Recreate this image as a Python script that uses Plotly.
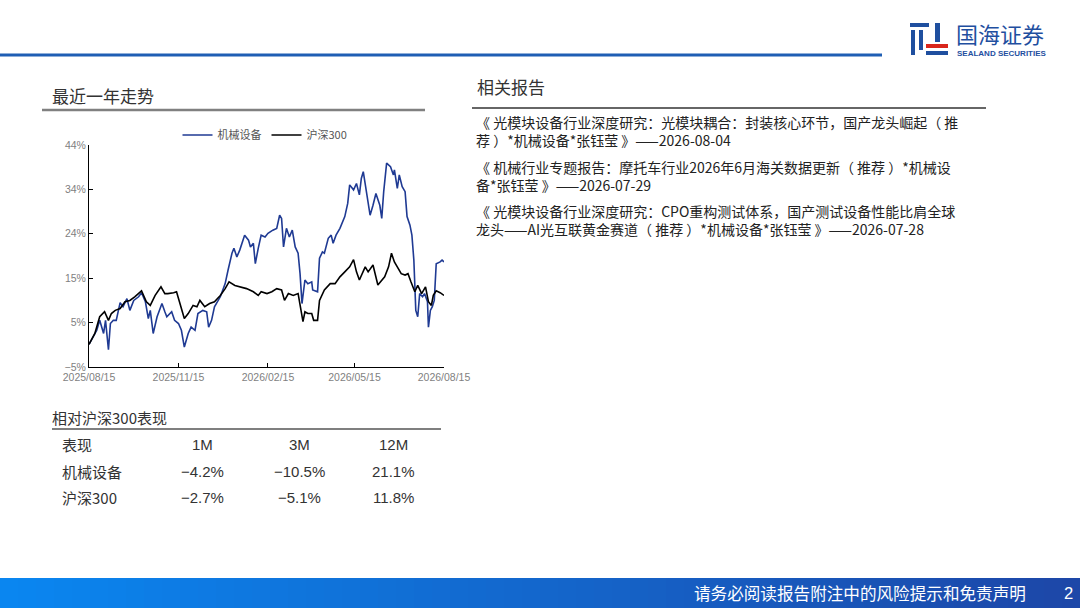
"""
Sector vs CSI300 one-year trend page, rebuilt with Plotly.
"""

import plotly.graph_objects as go

W, H = 1080, 608

# --- chart data ---
hs300_dates = [
    "2025-08-15", "2025-08-21", "2025-08-26", "2025-08-31", "2025-09-04", "2025-09-07",
    "2025-09-11", "2025-09-16", "2025-09-21", "2025-09-26", "2025-10-01", "2025-10-08",
    "2025-10-13", "2025-10-17", "2025-10-22", "2025-10-28", "2025-11-01", "2025-11-04",
    "2025-11-10", "2025-11-13", "2025-11-16", "2025-11-21", "2025-11-25", "2025-11-30",
    "2025-12-04", "2025-12-07", "2025-12-12", "2025-12-17", "2025-12-22", "2025-12-28",
    "2026-01-02", "2026-01-06", "2026-01-12", "2026-01-17", "2026-01-24", "2026-01-31",
    "2026-02-05", "2026-02-08", "2026-02-14", "2026-02-19", "2026-02-24", "2026-03-01",
    "2026-03-04", "2026-03-08", "2026-03-13", "2026-03-18", "2026-03-20", "2026-03-23",
    "2026-03-25", "2026-03-28", "2026-04-01", "2026-04-03", "2026-04-07", "2026-04-09",
    "2026-04-14", "2026-04-20", "2026-04-25", "2026-04-30", "2026-05-05", "2026-05-10",
    "2026-05-14", "2026-05-17", "2026-05-20", "2026-05-26", "2026-05-29", "2026-06-03",
    "2026-06-08", "2026-06-12", "2026-06-15", "2026-06-19", "2026-06-22", "2026-06-25",
    "2026-06-29", "2026-07-02", "2026-07-06", "2026-07-09", "2026-07-12", "2026-07-16",
    "2026-07-19", "2026-07-23", "2026-07-27", "2026-07-30", "2026-08-02", "2026-08-04",
    "2026-08-07", "2026-08-11", "2026-08-15",
]
hs300_vals = [
    0.0, 2.4, 6.1, 7.2, 5.3, 6.8,
    7.5, 7.9, 9.4, 9.7, 10.5, 11.8,
    9.4, 8.6, 10.8, 12.7, 11.2, 11.2,
    11.4, 11.6, 9.4, 5.7, 6.8, 8.6,
    8.3, 9.7, 8.3, 9.0, 9.4, 10.8,
    12.3, 13.8, 13.0, 12.7, 12.3, 11.6,
    10.8, 11.6, 11.2, 11.6, 12.3, 12.0,
    9.7, 11.2, 10.8, 11.2, 9.0, 5.0,
    7.2, 6.8, 6.8, 5.3, 5.3, 9.7,
    12.0, 13.4, 13.4, 14.9, 16.0, 17.1,
    18.7, 16.0, 14.2, 17.1, 16.0, 17.5,
    13.1, 14.2, 14.9, 17.1, 20.1, 18.2,
    16.7, 15.6, 15.3, 15.6, 13.8, 11.6,
    13.0, 11.2, 12.7, 9.4, 8.6, 10.8,
    11.8, 11.4, 10.8,
]

mach_dates = [
    "2025-08-15", "2025-08-19", "2025-08-23", "2025-08-26", "2025-08-30", "2025-09-01",
    "2025-09-04", "2025-09-06", "2025-09-09", "2025-09-12", "2025-09-16", "2025-09-19",
    "2025-09-23", "2025-09-26", "2025-09-30", "2025-10-05", "2025-10-08", "2025-10-12",
    "2025-10-15", "2025-10-17", "2025-10-20", "2025-10-24", "2025-10-29", "2025-11-01",
    "2025-11-03", "2025-11-08", "2025-11-11", "2025-11-15", "2025-11-18", "2025-11-21",
    "2025-11-25", "2025-11-28", "2025-12-02", "2025-12-05", "2025-12-10", "2025-12-14",
    "2025-12-16", "2025-12-19", "2025-12-22", "2025-12-28", "2026-01-02", "2026-01-05",
    "2026-01-09", "2026-01-11", "2026-01-14", "2026-01-17", "2026-01-22", "2026-01-26",
    "2026-01-28", "2026-01-31", "2026-02-02", "2026-02-05", "2026-02-08", "2026-02-12",
    "2026-02-15", "2026-02-20", "2026-02-24", "2026-02-27", "2026-03-01", "2026-03-03",
    "2026-03-06", "2026-03-09", "2026-03-12", "2026-03-15", "2026-03-18", "2026-03-20",
    "2026-03-22", "2026-03-25", "2026-03-28", "2026-04-01", "2026-04-02", "2026-04-07",
    "2026-04-09", "2026-04-12", "2026-04-14", "2026-04-18", "2026-04-21", "2026-04-23",
    "2026-04-26", "2026-04-30", "2026-05-05", "2026-05-08", "2026-05-10", "2026-05-14",
    "2026-05-17", "2026-05-20", "2026-05-22", "2026-05-24", "2026-05-28", "2026-05-31",
    "2026-06-03", "2026-06-06", "2026-06-10", "2026-06-12", "2026-06-14", "2026-06-17",
    "2026-06-21", "2026-06-24", "2026-06-25", "2026-06-28", "2026-06-30", "2026-07-03",
    "2026-07-06", "2026-07-08", "2026-07-11", "2026-07-13", "2026-07-15", "2026-07-17",
    "2026-07-19", "2026-07-21", "2026-07-24", "2026-07-26", "2026-07-29", "2026-07-30",
    "2026-08-01", "2026-08-03", "2026-08-05", "2026-08-07", "2026-08-11", "2026-08-13",
    "2026-08-15",
]
mach_vals = [
    0.0, 1.6, 3.1, 5.3, 2.4, 5.3,
    -1.2, 4.6, 5.3, 5.3, 9.2, 8.3,
    10.1, 7.5, 9.7, 10.5, 11.4, 9.4,
    5.7, 7.5, 2.4, 6.1, 9.0, 7.2,
    6.1, 7.2, 5.3, 4.6, 3.1, -0.6,
    2.4, 3.8, 3.1, 6.8, 7.5, 7.2,
    3.8, 5.3, 8.3, 10.5, 13.4, 16.4,
    20.1, 21.2, 19.3, 20.8, 24.1, 23.0,
    21.5, 22.3, 17.8, 21.2, 24.1, 23.7,
    24.5, 25.2, 25.6, 28.5, 27.8, 21.5,
    25.6, 23.7, 25.2, 21.5, 20.1, 15.6,
    9.0, 14.2, 13.4, 13.8, 12.0, 11.6,
    19.0, 20.4, 20.1, 23.4, 24.1, 22.3,
    24.1, 25.6, 28.2, 31.1, 35.2, 34.1,
    35.5, 33.0, 36.6, 38.1, 33.0, 28.5,
    30.7, 33.3, 30.7, 27.8, 33.7, 40.0,
    39.2, 37.4, 38.5, 34.4, 37.4, 34.8,
    33.7, 28.2, 26.3, 24.1, 18.6, 7.5,
    6.1, 11.2, 10.5, 11.2, 9.4, 3.8,
    7.5, 8.3, 9.7, 17.8, 18.2, 18.6,
    18.2,
]

y_tickvals = [-5, 4.8, 14.6, 24.4, 34.2, 44]
y_ticktext = ["−5%", "5%", "15%", "24%", "34%", "44%"]
x_tickvals = ["2025-08-15", "2025-11-15", "2026-02-15", "2026-05-15", "2026-08-15"]
x_ticktext = ["2025/08/15", "2025/11/15", "2026/02/15", "2026/05/15", "2026/08/15"]

# --- relative performance table ---
periods = ["1M", "3M", "12M"]
table_rows = ["机械设备", "沪深300"]
mach_perf = [-4.2, -10.5, 21.1]
hs300_perf = [-2.7, -5.1, 11.8]

# --- related reports (each item already split into its two printed lines) ---
reports = [
    ["《 光模块设备行业深度研究：光模块耦合：封装核心环节，国产龙头崛起（ 推",
     "荐 ）*机械设备*张钰莹 》——2026-08-04"],
    ["《 机械行业专题报告：摩托车行业2026年6月海关数据更新（ 推荐 ）*机械设",
     "备*张钰莹 》——2026-07-29"],
    ["《 光模块设备行业深度研究：CPO重构测试体系，国产测试设备性能比肩全球",
     "龙头——AI光互联黄金赛道（ 推荐 ）*机械设备*张钰莹 》——2026-07-28"],
]

FONT = "Liberation Sans, Noto Sans CJK SC, Arial, sans-serif"
CJK = "Noto Sans CJK SC"


def px(x):
    return x / W


def py(y):
    return 1 - y / H


fig = go.Figure()

fig.add_trace(go.Scatter(x=mach_dates, y=mach_vals, name="机械设备", mode="lines",
                         line=dict(color="#1f3a93", width=1.6)))
fig.add_trace(go.Scatter(x=hs300_dates, y=hs300_vals, name="沪深300", mode="lines",
                         line=dict(color="#000000", width=1.6)))

fig.update_xaxes(
    type="date", range=["2025-08-15", "2026-08-15"], domain=[px(89), px(444)],
    tickvals=x_tickvals, ticktext=x_ticktext, showgrid=False, zeroline=False,
    showline=True, linecolor="#000", linewidth=1, ticks="inside", ticklen=4,
    tickcolor="#000", tickfont=dict(size=10.5, color="#7f7f7f", family=FONT),
    automargin=False,
)
fig.update_yaxes(
    range=[-5, 44], domain=[py(367), py(145)], tickvals=y_tickvals, ticktext=y_ticktext,
    showgrid=False, zeroline=False, showline=True, linecolor="#000", linewidth=1,
    ticks="inside", ticklen=4, tickcolor="#000",
    tickfont=dict(size=10.5, color="#7f7f7f", family=FONT), automargin=False,
)

shapes = []
annotations = []

# header rule + footer gradient bar
shapes.append(dict(type="line", xref="paper", yref="paper", x0=0, x1=px(882), y0=py(55), y1=py(55),
                   line=dict(color="#1f5eb4", width=3)))
n_strips = 60
c0, c1 = (10, 134, 240), (29, 71, 168)
for i in range(n_strips):
    t = i / (n_strips - 1)
    col = "rgb({},{},{})".format(*[round(a + (b - a) * t) for a, b in zip(c0, c1)])
    shapes.append(dict(type="rect", xref="paper", yref="paper", layer="below",
                       x0=i / n_strips, x1=min(1, (i + 1) / n_strips + 0.002), y0=0, y1=py(578),
                       line=dict(width=0), fillcolor=col))
annotations.append(dict(text="请务必阅读报告附注中的风险提示和免责声明", x=px(692), y=py(593),
                        xanchor="left", yanchor="middle",
                        font=dict(size=16.6, color="white", family=CJK)))
annotations.append(dict(text="2", x=px(1068), y=py(593), xanchor="center", yanchor="middle",
                        font=dict(size=16.6, color="white", family=FONT)))

# logo
logo_blue = "#1f4f9f"
logo_red = "#d9261c"
for x0, y0, x1, y1, c in [
    (910, 23, 929, 27, logo_blue), (911, 30, 915, 55, logo_blue), (919, 30, 923, 50, logo_blue),
    (935, 23, 940, 42, logo_blue), (926, 44, 948, 48, logo_red), (926, 51, 948, 55, logo_blue),
]:
    shapes.append(dict(type="rect", xref="paper", yref="paper", x0=px(x0), x1=px(x1),
                       y0=py(y1), y1=py(y0), line=dict(width=0), fillcolor=c))
annotations.append(dict(text="国海证券", x=px(954), y=py(33), xanchor="left", yanchor="middle",
                        font=dict(size=22, color=logo_blue, family=CJK)))
annotations.append(dict(text="<b>SEALAND SECURITIES</b>", x=px(955), y=py(53), xanchor="left",
                        yanchor="middle", font=dict(size=8, color=logo_blue, family=FONT)))

# left section titles
annotations.append(dict(text="最近一年走势", x=px(50), y=py(95), xanchor="left", yanchor="middle",
                        font=dict(size=17, color="#333", family=CJK)))
shapes.append(dict(type="line", xref="paper", yref="paper", x0=px(42), x1=px(425), y0=py(110), y1=py(110),
                   line=dict(color="#808080", width=2.5)))
annotations.append(dict(text="相对沪深300表现", x=px(50), y=py(417), xanchor="left", yanchor="middle",
                        font=dict(size=15, color="#333", family=CJK)))
shapes.append(dict(type="line", xref="paper", yref="paper", x0=px(52), x1=px(441), y0=py(429), y1=py(429),
                   line=dict(color="#555", width=1.5)))

# performance table
col_x = [202, 299, 393]
row_y = [444, 471, 497]
annotations.append(dict(text="表现", x=px(60), y=py(row_y[0]), xanchor="left", yanchor="middle",
                        font=dict(size=15, color="#333", family=CJK)))
for cx, p in zip(col_x, periods):
    annotations.append(dict(text=p, x=px(cx), y=py(row_y[0]), xanchor="center", yanchor="middle",
                            font=dict(size=15, color="#333", family=FONT)))
for ry, label, vals in zip(row_y[1:], table_rows, [mach_perf, hs300_perf]):
    annotations.append(dict(text=label, x=px(60), y=py(ry), xanchor="left", yanchor="middle",
                            font=dict(size=15, color="#333", family=CJK)))
    for cx, v in zip(col_x, vals):
        annotations.append(dict(text=f"{v:.1f}%".replace("-", "−"), x=px(cx), y=py(ry),
                                xanchor="center", yanchor="middle",
                                font=dict(size=15, color="#333", family=FONT)))

# related reports
annotations.append(dict(text="相关报告", x=px(475), y=py(87), xanchor="left", yanchor="middle",
                        font=dict(size=17, color="#333", family=CJK)))
shapes.append(dict(type="line", xref="paper", yref="paper", x0=px(472), x1=px(986), y0=py(108), y1=py(108),
                   line=dict(color="#333", width=1.5)))
item_top = [110, 155, 199]
for y0, lines in zip(item_top, reports):
    annotations.append(dict(text="<br>".join(lines), x=px(474), y=py(y0), xanchor="left",
                            yanchor="top", align="left",
                            font=dict(size=14, color="#222", family=CJK)))

for a in annotations:
    a.update(xref="paper", yref="paper", showarrow=False)

fig.update_layout(
    width=W, height=H, margin=dict(l=0, r=0, t=0, b=0, autoexpand=False),
    paper_bgcolor="white", plot_bgcolor="white",
    font=dict(family=FONT),
    showlegend=True,
    legend=dict(orientation="h", x=px(265), y=py(135), xanchor="center", yanchor="middle",
                font=dict(size=11, color="#555", family=CJK), bgcolor="rgba(0,0,0,0)",
                itemwidth=30, tracegroupgap=0),
    shapes=shapes, annotations=annotations,
)

# the page body has a default 8px margin; drop it so the figure fills the window
fig.write_html("out.html", config={"displayModeBar": False},
               post_script="document.body.style.margin='0';")
